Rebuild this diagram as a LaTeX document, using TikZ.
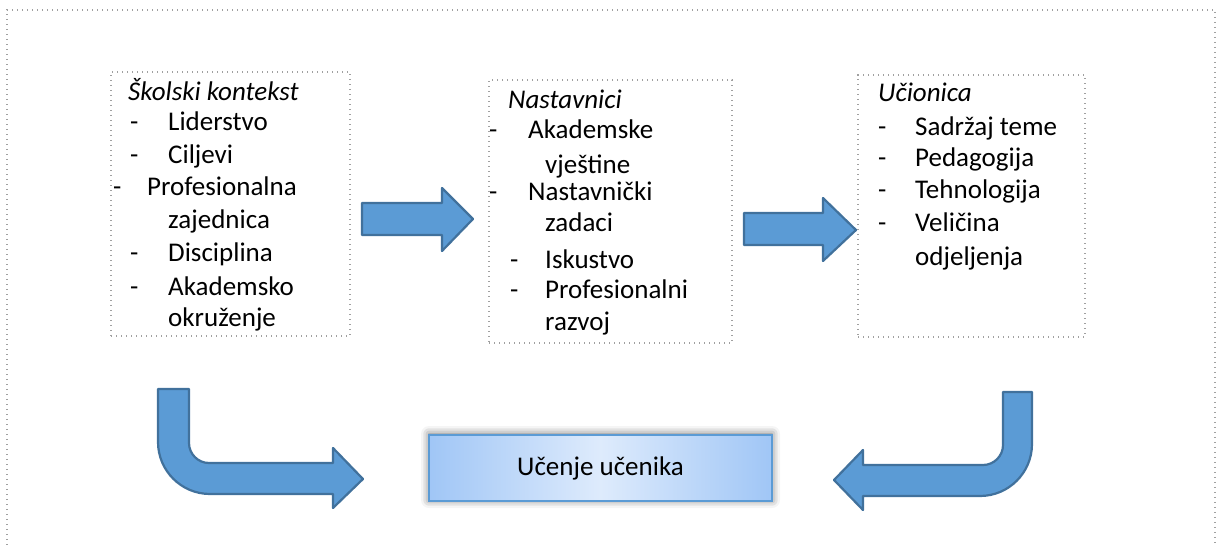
\documentclass[tikz,border=0pt]{standalone}
\usepackage{fontspec}
\setmainfont{Carlito}
\usepackage{tikz}
\usetikzlibrary{shadows.blur}
\definecolor{AF}{RGB}{91, 155, 213}
\definecolor{AL}{RGB}{65, 113, 156}
\definecolor{BL}{RGB}{91, 155, 213}
\definecolor{BE}{RGB}{160, 198, 246}
\definecolor{BM}{RGB}{222, 235, 252}
\definecolor{DT}{RGB}{160, 160, 160}
\newcommand{\txt}{\fontsize{27}{32}\selectfont}

\begin{document}
\begin{tikzpicture}[x=1pt,y=-1pt,
  frame/.style={draw=DT, line width=1.6pt, dash pattern=on 1.4pt off 3.6pt},
  textbox/.style={frame, inner sep=0pt, outer sep=0pt},
  row/.style={anchor=base west, inner sep=0pt, font=\txt},
  blockarrow/.style={fill=AF, draw=AL, line width=2.2pt, line join=round}]
  \useasboundingbox (0,0) rectangle (1216,545);

  %# OKVIR
  \draw[frame] (7,545) -- (7,10) -- (1215,10) -- (1215,545);

  %# KUTIJE
  \node[textbox, minimum width=239, minimum height=264] (ctx) at (230.5,204) {};
  \node[textbox, minimum width=243, minimum height=263] (tch) at (610.5,211.5) {};
  \node[textbox, minimum width=227, minimum height=262] (cls) at (971.5,206) {};

  %# SKOLSKI KONTEKST
  \node[row] (ctxT) at (128,101) {\itshape Školski kontekst};
  \node[row] (ctxD1) at (130,131) {-};
  \node[row] (ctxL1) at (168,131) {Liderstvo};
  \node[row] (ctxD2) at (130,164) {-};
  \node[row] (ctxL2) at (168,164) {Ciljevi};
  \node[row] (ctxD3) at (113,196) {-};
  \node[row] (ctxL3) at (147,196) {Profesionalna};
  \node[row] (ctxL3b) at (168,229) {zajednica};
  \node[row] (ctxD4) at (130,262) {-};
  \node[row] (ctxL4) at (168,262) {Disciplina};
  \node[row] (ctxD5) at (130,296) {-};
  \node[row] (ctxL5) at (168,296) {Akademsko};
  \node[row] (ctxL5b) at (168,327) {okruženje};

  %# NASTAVNICI
  \node[row] (tchT) at (508,109) {\itshape Nastavnici};
  \node[row] (tchD1) at (489,139) {-};
  \node[row] (tchL1) at (528,139) {Akademske};
  \node[row] (tchL1b) at (545,174) {vještine};
  \node[row] (tchD2) at (489,201) {-};
  \node[row] (tchL2) at (528,201) {Nastavnički};
  \node[row] (tchL2b) at (545,232) {zadaci};
  \node[row] (tchD3) at (510,269) {-};
  \node[row] (tchL3) at (545,269) {Iskustvo};
  \node[row] (tchD4) at (510,299) {-};
  \node[row] (tchL4) at (545,299) {Profesionalni};
  \node[row] (tchL4b) at (545,331) {razvoj};

  %# UCIONICA
  \node[row] (clsT) at (878,102) {\itshape Učionica};
  \node[row] (clsD1) at (878,136) {-};
  \node[row] (clsL1) at (915,136) {Sadržaj teme};
  \node[row] (clsD2) at (878,167) {-};
  \node[row] (clsL2) at (915,167) {Pedagogija};
  \node[row] (clsD3) at (878,199) {-};
  \node[row] (clsL3) at (915,199) {Tehnologija};
  \node[row] (clsD4) at (878,232) {-};
  \node[row] (clsL4) at (915,232) {Veličina};
  \node[row] (clsL4b) at (915,266) {odjeljenja};

  %# UCENJE UCENIKA
  \node[draw=BL, line width=2pt, left color=BE, right color=BE, middle color=BM,
        minimum width=343, minimum height=66, inner sep=0pt, font=\txt,
        blur shadow={shadow xshift=0pt, shadow yshift=1pt, shadow blur radius=8pt, shadow opacity=60}]
        (learn) at (600.5,468) {Učenje učenika};

  %# STRELICE
  \filldraw[blockarrow] (362,203) -- (442,203) -- (442,188) -- (473,219)
    -- (442,251) -- (442,235) -- (362,235) -- cycle;
  \filldraw[blockarrow] (744,213) -- (823,213) -- (823,198) -- (856,230)
    -- (823,261) -- (823,245) -- (744,245) -- cycle;
  \filldraw[blockarrow] (158,389) -- (189,389) -- (189,443)
    .. controls (189,454) and (198,463) .. (209,463)
    -- (333,463) -- (333,448) -- (363,479) -- (333,508) -- (333,494) -- (210,494)
    .. controls (181.3,494) and (158,470.7) .. (158,442) -- cycle;
  \filldraw[blockarrow] (1003,392) -- (1032,392) -- (1032,444)
    .. controls (1032,472.7) and (1008.7,496) .. (980,496)
    -- (863,496) -- (863,510) -- (834,480) -- (863,450) -- (863,465) -- (983,465)
    .. controls (994,465) and (1003,456) .. (1003,445) -- cycle;
\end{tikzpicture}
\end{document}
